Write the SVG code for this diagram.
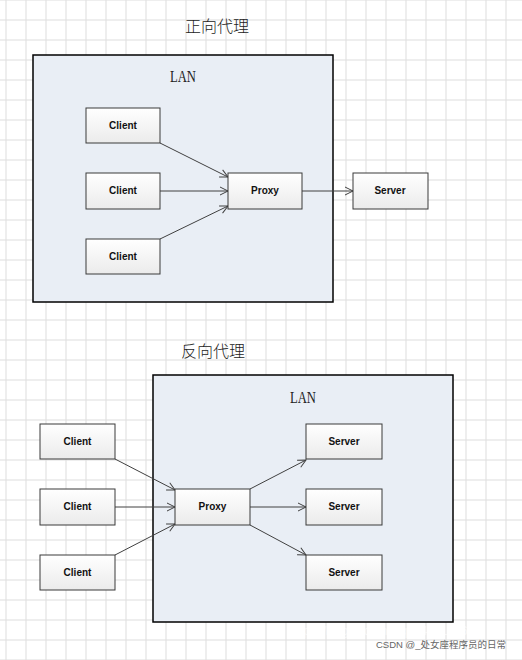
<svg xmlns="http://www.w3.org/2000/svg" width="522" height="660" viewBox="0 0 522 660">
<defs>
<pattern id="grid" x="5.5" y="19.5" width="20" height="20" patternUnits="userSpaceOnUse">
<path d="M0 0.5H20M0.5 0V20" fill="none" stroke="#dddddd" stroke-width="1"/>
</pattern>
<linearGradient id="boxg" x1="0" y1="0" x2="0" y2="1">
<stop offset="0" stop-color="#ffffff"/>
<stop offset="1" stop-color="#ebebeb"/>
</linearGradient>
<marker id="arr" markerWidth="10" markerHeight="10" refX="9" refY="5" orient="auto" markerUnits="userSpaceOnUse">
<path d="M1 1L9 5L1 9" fill="none" stroke="#404040" stroke-width="1"/>
</marker>
<style>
.lan{fill:#e9eef5;stroke:#000;stroke-width:1.5}
.box{fill:url(#boxg);stroke:#3a3a3a;stroke-width:1}
.lbl{font-family:"Liberation Sans",Arial,sans-serif;font-weight:bold;font-size:10px;fill:#111;text-anchor:middle}
.title{font-family:"Noto Sans CJK SC",sans-serif;font-size:16px;font-weight:300;fill:#222;text-anchor:middle}
.lant{font-family:"Liberation Serif",serif;font-size:16px;fill:#222;text-anchor:middle}
.con{stroke:#404040;stroke-width:1;fill:none;marker-end:url(#arr)}
</style>
</defs>
<rect width="522" height="660" fill="#fff"/>
<rect width="522" height="660" fill="url(#grid)"/>

<text class="title" x="217" y="32">正向代理</text>
<rect class="lan" x="33" y="55" width="300" height="247"/>
<text class="lant" x="183" y="82" textLength="26" lengthAdjust="spacingAndGlyphs">LAN</text>

<text class="title" x="213" y="357">反向代理</text>
<rect class="lan" x="153" y="375" width="300" height="247"/>
<text class="lant" x="303" y="403" textLength="26" lengthAdjust="spacingAndGlyphs">LAN</text>

<g id="connectors">
<line class="con" x1="160" y1="143" x2="228" y2="177"/>
<line class="con" x1="160" y1="191" x2="228" y2="191"/>
<line class="con" x1="160" y1="239" x2="228" y2="206"/>
<line class="con" x1="302" y1="191" x2="353" y2="191"/>
<line class="con" x1="115" y1="459" x2="175" y2="490"/>
<line class="con" x1="115" y1="507" x2="175" y2="507"/>
<line class="con" x1="115" y1="555" x2="175" y2="524"/>
<line class="con" x1="250" y1="489" x2="306" y2="460"/>
<line class="con" x1="250" y1="507" x2="306" y2="507"/>
<line class="con" x1="250" y1="525" x2="306" y2="555"/>
</g>

<g id="f-client1"><rect class="box" x="86" y="108" width="74" height="35"/><text class="lbl" x="123" y="129">Client</text></g>
<g id="f-client2"><rect class="box" x="86" y="173" width="74" height="36"/><text class="lbl" x="123" y="194">Client</text></g>
<g id="f-client3"><rect class="box" x="86" y="239" width="74" height="35"/><text class="lbl" x="123" y="260">Client</text></g>
<g id="f-proxy"><rect class="box" x="228" y="173" width="74" height="36"/><text class="lbl" x="265" y="194">Proxy</text></g>
<g id="f-server"><rect class="box" x="353" y="173" width="75" height="36"/><text class="lbl" x="390" y="194">Server</text></g>

<g id="r-client1"><rect class="box" x="40" y="424" width="75" height="35"/><text class="lbl" x="77.5" y="445">Client</text></g>
<g id="r-client2"><rect class="box" x="40" y="489" width="75" height="36"/><text class="lbl" x="77.5" y="510">Client</text></g>
<g id="r-client3"><rect class="box" x="40" y="555" width="75" height="35"/><text class="lbl" x="77.5" y="576">Client</text></g>
<g id="r-proxy"><rect class="box" x="175" y="489" width="75" height="36"/><text class="lbl" x="212.5" y="510">Proxy</text></g>
<g id="r-server1"><rect class="box" x="306" y="424" width="76" height="35"/><text class="lbl" x="344" y="445">Server</text></g>
<g id="r-server2"><rect class="box" x="306" y="489" width="76" height="36"/><text class="lbl" x="344" y="510">Server</text></g>
<g id="r-server3"><rect class="box" x="306" y="555" width="76" height="35"/><text class="lbl" x="344" y="576">Server</text></g>

<text x="290" y="635" font-family="Liberation Sans,Arial,sans-serif" font-size="12" fill="#ffffff" fill-opacity="0.6">https://blog.csdn.net/qq_42419169</text>
<text x="376" y="648" font-family="Liberation Sans,'Noto Sans CJK SC',sans-serif" font-size="9.5" fill="#666">CSDN @_处女座程序员的日常</text>
</svg>
